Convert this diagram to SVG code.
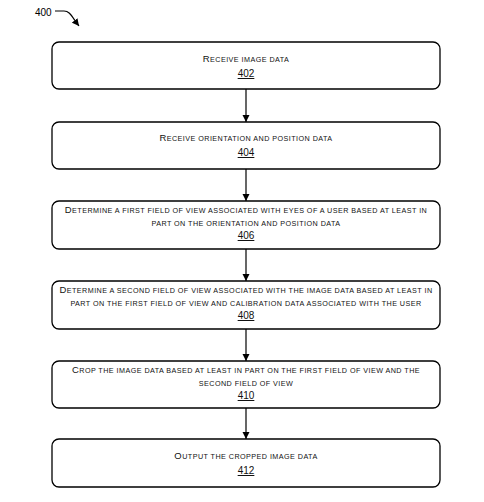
<svg xmlns="http://www.w3.org/2000/svg" width="484" height="502" viewBox="0 0 484 502">
<defs>
<marker id="ah" markerWidth="8" markerHeight="8" refX="7" refY="4" orient="auto" markerUnits="userSpaceOnUse">
<path d="M0,0.5 L7,4 L0,7.5 Z" fill="#000"/>
</marker>
<style>
.box{fill:#fff;stroke:#000;stroke-width:1.3}
.t{font-family:"Liberation Sans",Arial,sans-serif;font-size:7.2px;font-weight:normal;letter-spacing:0.45px;text-anchor:middle;fill:#111}
.b{font-size:9.5px}
.n{font-family:"Liberation Sans",Arial,sans-serif;font-size:10px;text-anchor:middle;fill:#111;text-decoration:underline}
.c{stroke:#000;stroke-width:1.2;fill:none}
</style>
</defs>
<text x="35" y="16" font-family="Liberation Sans,Arial,sans-serif" font-size="10">400</text>
<g id="connectors">
<path class="c" d="M55,11 L64,11 C70,11 72,17 79,26" marker-end="url(#ah)"/>
<line class="c" x1="246" y1="89" x2="246" y2="122" marker-end="url(#ah)"/>
<line class="c" x1="246" y1="169" x2="246" y2="201" marker-end="url(#ah)"/>
<line class="c" x1="246" y1="249" x2="246" y2="281" marker-end="url(#ah)"/>
<line class="c" x1="246" y1="329" x2="246" y2="361" marker-end="url(#ah)"/>
<line class="c" x1="246" y1="408" x2="246" y2="439" marker-end="url(#ah)"/>
</g>
<g id="n402">
<rect class="box" x="52" y="42" width="388" height="47" rx="7"/>
<text class="t" x="246" y="62"><tspan class="b">R</tspan>ECEIVE IMAGE DATA</text>
<text class="n" x="246" y="77">402</text>
</g>
<g id="n404">
<rect class="box" x="52" y="122" width="388" height="47" rx="7"/>
<text class="t" x="246" y="141"><tspan class="b">R</tspan>ECEIVE ORIENTATION AND POSITION DATA</text>
<text class="n" x="246" y="156">404</text>
</g>
<g id="n406">
<rect class="box" x="52" y="201" width="388" height="48" rx="7"/>
<text class="t" x="246" y="213"><tspan class="b">D</tspan>ETERMINE A FIRST FIELD OF VIEW ASSOCIATED WITH EYES OF A USER BASED AT LEAST IN</text>
<text class="t" x="246" y="226">PART ON THE ORIENTATION AND POSITION DATA</text>
<text class="n" x="246" y="239">406</text>
</g>
<g id="n408">
<rect class="box" x="52" y="281" width="388" height="48" rx="7"/>
<text class="t" x="246" y="293"><tspan class="b">D</tspan>ETERMINE A SECOND FIELD OF VIEW ASSOCIATED WITH THE IMAGE DATA BASED AT LEAST IN</text>
<text class="t" x="246" y="306">PART ON THE FIRST FIELD OF VIEW AND CALIBRATION DATA ASSOCIATED WITH THE USER</text>
<text class="n" x="246" y="319">408</text>
</g>
<g id="n410">
<rect class="box" x="52" y="361" width="388" height="47" rx="7"/>
<text class="t" x="246" y="373"><tspan class="b">C</tspan>ROP THE IMAGE DATA BASED AT LEAST IN PART ON THE FIRST FIELD OF VIEW AND THE</text>
<text class="t" x="246" y="386">SECOND FIELD OF VIEW</text>
<text class="n" x="246" y="399">410</text>
</g>
<g id="n412">
<rect class="box" x="52" y="439" width="388" height="48" rx="7"/>
<text class="t" x="246" y="459"><tspan class="b">O</tspan>UTPUT THE CROPPED IMAGE DATA</text>
<text class="n" x="246" y="474">412</text>
</g>
</svg>
